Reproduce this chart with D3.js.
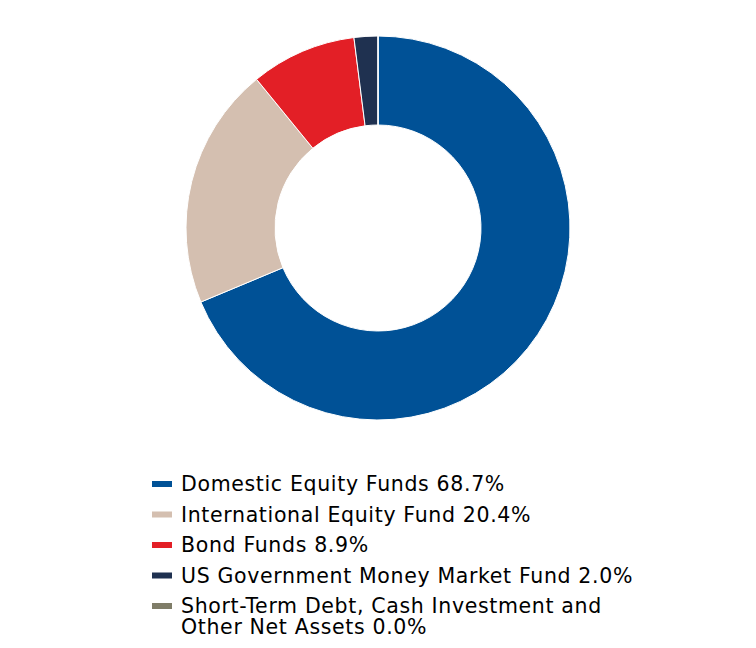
<!DOCTYPE html>
<html><head><meta charset="utf-8">
<script src="https://cdn.jsdelivr.net/npm/d3@7"></script>
<style>body{margin:0;background:#fff}svg{display:block}</style>
</head><body>
<svg id="c" width="756" height="648"></svg>
<script>
const categories = ["Domestic Equity Funds 68.7%","International Equity Fund 20.4%","Bond Funds 8.9%","US Government Money Market Fund 2.0%","Short-Term Debt, Cash Investment and Other Net Assets 0.0%"];
const legendLines = [["Domestic Equity Funds 68.7%"],["International Equity Fund 20.4%"],["Bond Funds 8.9%"],["US Government Money Market Fund 2.0%"],["Short-Term Debt, Cash Investment and","Other Net Assets 0.0%"]];
const values = [68.7, 20.4, 8.9, 2.0, 0.0];
const colors = ["#005196","#d4bfb0","#e31f26","#1f3150","#7f7d68"];

const svg = d3.select("#c");
const cx = 378, cy = 228, rOut = 192, rIn = 103;
const pie = d3.pie().sort(null).value(d => d)(values);
const arc = d3.arc().innerRadius(rIn).outerRadius(rOut);
svg.append("g").attr("transform",`translate(${cx},${cy})`)
  .selectAll("path").data(pie).join("path")
  .attr("d", arc).attr("fill",(d,i)=>colors[i])
  .attr("stroke","#fff").attr("stroke-width",1);

const lg = svg.append("g").attr("font-family","Verdana, 'DejaVu Sans', sans-serif")
  .attr("font-size",20.5).attr("letter-spacing",0.65).attr("fill","#000");
let y = 491;
legendLines.forEach((lines,i)=>{
  lg.append("rect").attr("x",152).attr("y",y-10).attr("width",20).attr("height",6).attr("fill",colors[i]);
  const t = lg.append("text").attr("x",181).attr("y",y);
  lines.forEach((s,j)=>{
    t.append("tspan").attr("x",181).attr("dy", j===0 ? 0 : 21).text(s);
  });
  y += 30.5;
});
</script>
</body></html>
